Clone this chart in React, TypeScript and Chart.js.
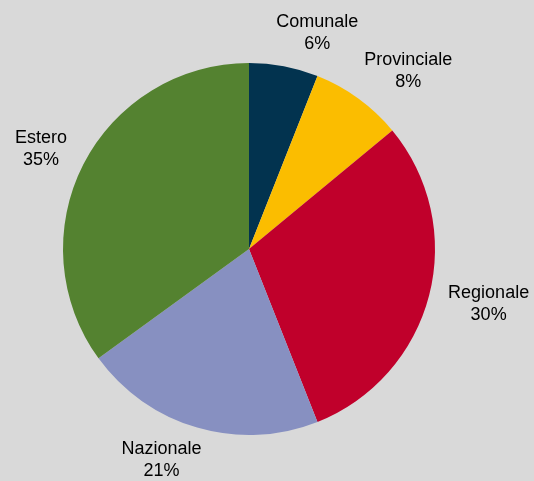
import React, { useEffect, useRef } from "react";
import { Chart, registerables } from "chart.js";

Chart.register(...registerables);

const categories = ["Comunale", "Provinciale", "Regionale", "Nazionale", "Estero"];
const values = [6, 8, 30, 21, 35];
const colors = ["#02334f", "#fbbd00", "#c0002b", "#8790c1", "#548230"];

const labelPlugin = {
  id: "outerLabels",
  afterDatasetsDraw(chart: any) {
    const ctx = chart.ctx;
    const meta = chart.getDatasetMeta(0);
    const total = values.reduce((a, b) => a + b, 0);
    ctx.save();
    ctx.font = "18px 'Liberation Sans', Arial, sans-serif";
    ctx.fillStyle = "#000000";
    ctx.textAlign = "center";
    ctx.textBaseline = "middle";
    meta.data.forEach((el: any, i: number) => {
      const mid = (el.startAngle + el.endAngle) / 2;
      const R = el.outerRadius;
      const ux = Math.cos(mid);
      const uy = Math.sin(mid);
      const l1 = categories[i];
      const l2 = Math.round((values[i] / total) * 100) + "%";
      const w = Math.max(ctx.measureText(l1).width, ctx.measureText(l2).width);
      const cx = el.x + ux * (R + 34) + Math.sign(ux) * (w / 2 - 14);
      const cy = el.y + uy * (R + 34);
      ctx.fillText(l1, cx, cy - 11);
      ctx.fillText(l2, cx, cy + 11);
    });
    ctx.restore();
  },
};

export default function App() {
  const ref = useRef<HTMLCanvasElement | null>(null);
  useEffect(() => {
    if (!ref.current) return;
    const chart = new Chart(ref.current, {
      type: "pie",
      data: {
        labels: categories,
        datasets: [
          {
            data: values,
            backgroundColor: colors,
            borderWidth: 0,
          },
        ],
      },
      options: {
        animation: false,
        responsive: false,
        devicePixelRatio: 1,
        layout: { padding: { left: 63, top: 63, right: 99, bottom: 46 } },
        plugins: {
          legend: { display: false },
          tooltip: { enabled: false },
        },
      },
      plugins: [labelPlugin],
    });
    return () => chart.destroy();
  }, []);
  return (
    <div style={{ position: "fixed", left: 0, top: 0, width: 534, height: 481, background: "#d9d9d9" }}>
      <canvas ref={ref} width={534} height={481} style={{ display: "block" }} />
    </div>
  );
}
